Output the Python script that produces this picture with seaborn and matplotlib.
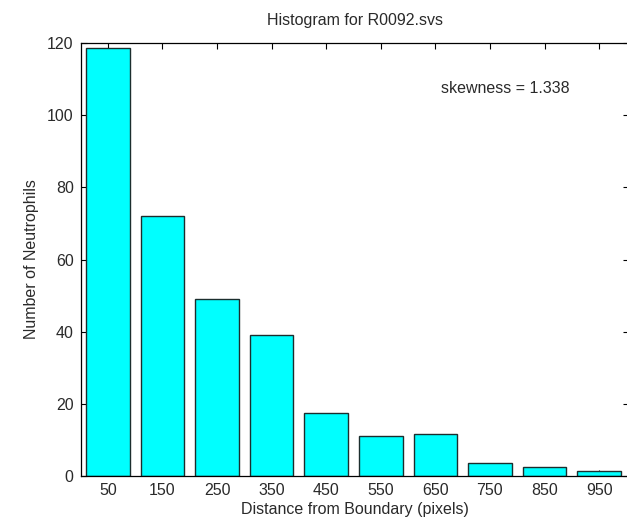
import matplotlib
matplotlib.use("Agg")
import matplotlib.pyplot as plt
import seaborn as sns
import pandas as pd

# bin centres and counts
bin_centers = [50, 150, 250, 350, 450, 550, 650, 750, 850, 950]
counts = [118.5, 72, 49, 39, 17.5, 11, 11.5, 3.5, 2.5, 1.5]
y_ticks = [0, 20, 40, 60, 80, 100, 120]
skew_text = "skewness = 1.338"

df = pd.DataFrame({"center": bin_centers, "count": counts})

sns.set_style("ticks")
plt.rcParams["font.family"] = ["Liberation Sans", "DejaVu Sans"]

fig = plt.figure(figsize=(6.27, 5.21), dpi=100)
ax = fig.add_axes([0.1285, 0.0864, 0.874, 0.831])

sns.barplot(
    data=df,
    x="center",
    y="count",
    native_scale=True,
    width=0.8,
    color="#00FFFF",
    saturation=1,
    edgecolor="#1c2e2e",
    linewidth=1.0,
    ax=ax,
)
for p in ax.patches:
    p.set_facecolor("#00FFFF")

ax.set_xlim(0, 1004)
ax.set_ylim(0, 120)
ax.set_xticks(bin_centers)
ax.set_xticklabels([str(c) for c in bin_centers])
ax.set_yticks(y_ticks)

for side in ["top", "right", "left", "bottom"]:
    ax.spines[side].set_visible(True)
    ax.spines[side].set_color("black")
    ax.spines[side].set_linewidth(0.9)

fs = 11.5
ax.tick_params(direction="in", length=4, width=0.8, top=True, right=True,
               labelsize=fs, colors="black", labelcolor="#2a2a2a", pad=5)

ax.set_xlabel("Distance from Boundary (pixels)", fontsize=fs, color="#2a2a2a", labelpad=3)
ax.set_ylabel("Number of Neutrophils", fontsize=fs, color="#2a2a2a", labelpad=6)
ax.set_title("Histogram for R0092.svs", fontsize=fs, color="#2a2a2a", pad=13)

ax.text(660, 107.5, skew_text, fontsize=fs, color="#2a2a2a", va="center", ha="left")

fig.savefig("out.png", dpi=100)
